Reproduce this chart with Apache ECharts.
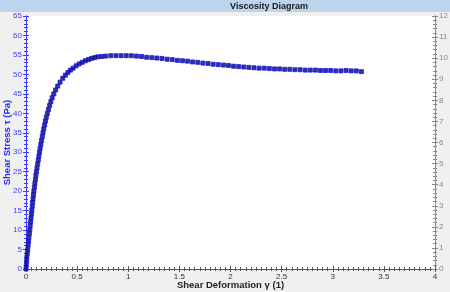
<!DOCTYPE html>
<html><head><meta charset="utf-8">
<script src="https://cdn.jsdelivr.net/npm/echarts@6/dist/echarts.min.js"></script>
<style>html,body{margin:0;padding:0;background:#f0f0f0}#c{width:450px;height:292px}</style>
</head><body><div id="c"></div>
<script>
const titleText = 'Viscosity Diagram';
const xName = 'Shear Deformation γ (1)';
const yName = 'Shear Stress τ (Pa)';
const gamma = [0.000,0.003,0.006,0.009,0.013,0.017,0.021,0.025,0.029,0.033,0.037,0.041,0.045,0.049,0.053,0.057,0.061,0.065,0.069,0.073,0.077,0.082,0.087,0.092,0.097,0.102,0.108,0.114,0.120,0.126,0.132,0.138,0.145,0.152,0.159,0.166,0.174,0.182,0.190,0.199,0.209,0.220,0.231,0.243,0.256,0.272,0.290,0.310,0.333,0.360,0.385,0.41,0.435,0.46,0.49,0.52,0.55,0.58,0.61,0.64,0.67,0.70,0.74,0.78,0.83,0.88,0.93,0.98,1.03,1.08,1.13,1.18,1.23,1.28,1.33,1.38,1.43,1.48,1.53,1.58,1.63,1.68,1.73,1.78,1.83,1.88,1.93,1.98,2.03,2.08,2.13,2.18,2.23,2.28,2.33,2.38,2.43,2.48,2.53,2.58,2.63,2.68,2.73,2.78,2.83,2.88,2.93,2.98,3.03,3.08,3.13,3.18,3.23,3.28];
const tau = [0.0,1.0,2.0,3.0,4.0,5.0,6.1,7.1,8.1,9.1,10.1,11.1,12.1,13.1,14.1,15.1,16.1,17.1,18.0,19.0,20.0,21.0,22.0,23.0,24.0,25.0,26.0,27.0,28.0,29.0,30.0,31.0,32.0,33.0,34.0,35.0,36.0,37.0,38.0,39.0,40.0,41.0,42.0,43.0,44.0,45.0,46.0,47.0,48.0,49.0,49.8,50.5,51.1,51.6,52.2,52.7,53.1,53.5,53.8,54.1,54.3,54.5,54.6,54.7,54.8,54.8,54.8,54.8,54.8,54.7,54.6,54.4,54.3,54.2,54.1,53.9,53.8,53.6,53.5,53.4,53.2,53.1,52.9,52.8,52.6,52.5,52.4,52.3,52.1,52.0,51.9,51.8,51.7,51.6,51.6,51.5,51.4,51.4,51.3,51.3,51.2,51.2,51.1,51.1,51.1,51.0,51.0,51.0,50.9,50.9,51.0,50.9,50.9,50.7];
const leftRange = [0, 65, 5];
const rightRange = [0, 12, 1];
const xRange = [0, 4, 0.5];

const chart = echarts.init(document.getElementById('c'), null, {renderer: 'canvas'});
const font = '"Liberation Sans", Arial, sans-serif';
const pts = gamma.map((g, i) => [g, tau[i]]);
function xa(inside, labels) {
  return {type: 'value', position: 'bottom', min: xRange[0], max: xRange[1], interval: xRange[2],
    axisLine: {show: true, lineStyle: {color: '#555', width: 1}},
    axisTick: {show: true, inside: inside, length: 3, lineStyle: {color: '#555'}},
    minorTick: {show: true, splitNumber: 10, length: 2, lineStyle: {color: '#555'}},
    splitLine: {show: false},
    axisLabel: {show: labels, fontSize: 8, color: '#333', fontFamily: font, margin: 4,
      formatter: v => String(v)},
    name: labels ? xName : '', nameLocation: 'middle', nameGap: 11, nameMoveOverlap: false,
    nameTextStyle: {fontSize: 9.5, fontWeight: 'bold', color: '#222', fontFamily: font}};
}
function ya(pos, range, color, inside, labels, name, minorN) {
  return {type: 'value', position: pos, min: range[0], max: range[1], interval: range[2],
    axisLine: {show: true, onZero: false, lineStyle: {color: color, width: 1}},
    axisTick: {show: true, inside: inside, length: 3, lineStyle: {color: color}},
    minorTick: {show: true, splitNumber: minorN, length: 2, lineStyle: {color: color}},
    splitLine: {show: false},
    axisLabel: {show: labels, fontSize: 8, color: color, fontFamily: font, margin: 4},
    name: name, nameLocation: 'middle', nameGap: 14, nameRotate: 90, nameMoveOverlap: false,
    nameTextStyle: {fontSize: 9.5, fontWeight: 'bold', color: '#2828ff', fontFamily: font}};
}
chart.setOption({
  backgroundColor: '#f0f0f0',
  animation: false,
  graphic: [
    {type: 'rect', left: 0, top: 0, z: -1, shape: {width: 450, height: 12}, style: {fill: '#bcd4ec'}},
    {type: 'text', x: 269, y: 6.5, style: {text: titleText, fontSize: 9, fontWeight: 'bold', fill: '#1a1a1a', fontFamily: font, align: 'center', verticalAlign: 'middle'}}
  ],
  grid: {left: 26, right: 15, top: 16, bottom: 23, show: true, backgroundColor: '#ffffff', borderWidth: 0,
    containLabel: false, outerBoundsMode: 'none'},
  xAxis: [xa(false, true), xa(true, false)],
  yAxis: [
    ya('left', leftRange, '#3c3cff', false, true, yName, 5),
    ya('left', leftRange, '#3c3cff', true, false, '', 5),
    ya('right', rightRange, '#888', false, true, '', 5),
    ya('right', rightRange, '#888', true, false, '', 5)
  ],
  series: [{type: 'scatter', xAxisIndex: 0, yAxisIndex: 0, data: pts, symbol: 'rect', symbolSize: 4,
    itemStyle: {color: '#000070', borderColor: '#1818e8', borderWidth: 1}}]
});
</script></body></html>
